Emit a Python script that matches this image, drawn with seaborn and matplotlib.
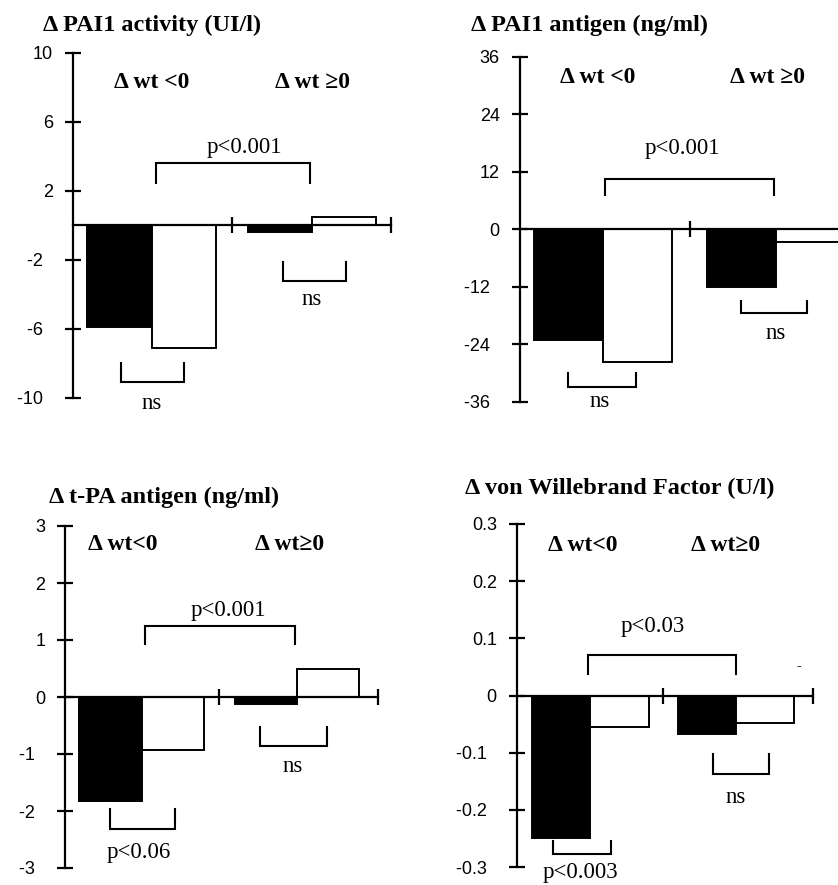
import pandas as pd
import matplotlib
matplotlib.use('Agg')
import matplotlib.pyplot as plt
import seaborn as sns

# groupes de poids et les deux barres (noire / blanche) par groupe
groups = ['Δ wt <0', 'Δ wt ≥0']
bars = ['black', 'white']

# valeurs
pai1_activity = [-5.9, -7.1, -0.4, 0.5]
pai1_antigen = [-23.0, -27.7, -11.9, -2.7]
tpa_antigen = [-1.83, -0.93, -0.12, 0.5]
vwf = [-0.25, -0.055, -0.068, -0.048]

titles = ['Δ PAI1 activity (UI/l)', 'Δ PAI1 antigen (ng/ml)',
          'Δ t-PA antigen (ng/ml)', 'Δ von Willebrand Factor (U/l)']
group_labels = [['Δ wt <0', 'Δ wt ≥0'], ['Δ wt <0', 'Δ wt ≥0'],
                ['Δ wt<0', 'Δ wt≥0'], ['Δ wt<0', 'Δ wt≥0']]

yticks = [[10, 6, 2, -2, -6, -10],
          [36, 24, 12, 0, -12, -24, -36],
          [3, 2, 1, 0, -1, -2, -3],
          [0.3, 0.2, 0.1, 0, -0.1, -0.2, -0.3]]
ylims = [(-10, 10), (-36, 36), (-3, 3), (-0.3, 0.3)]

# crochets de comparaison: x0, x1, y horizontal, y des pattes, texte, x texte, y texte
brackets = [
    [(0.03, 0.99, 3.62, 2.46, 'p<0.001', 0.58, 4.5),
     (-0.19, 0.20, -9.07, -7.97, 'ns', 0.0, -10.3),
     (0.82, 1.21, -3.22, -2.12, 'ns', 1.0, -4.3)],
    [(0.01, 0.99, 10.6, 7.1, 'p<0.001', 0.46, 16.9),
     (-0.2, 0.19, -32.8, -29.9, 'ns', -0.02, -35.8),
     (0.8, 1.18, -17.5, -15.0, 'ns', 1.0, -21.8)],
    [(0.02, 0.99, 1.25, 0.93, 'p<0.001', 0.56, 1.51),
     (-0.2, 0.215, -2.32, -1.96, 'p<0.06', -0.02, -2.72),
     (0.76, 1.19, -0.86, -0.53, 'ns', 0.97, -1.22)],
    [(-0.02, 1.0, 0.070, 0.038, 'p<0.03', 0.43, 0.121),
     (-0.26, 0.14, -0.278, -0.255, 'p<0.003', -0.07, -0.309),
     (0.84, 1.23, -0.138, -0.103, 'ns', 1.0, -0.178)],
]
label_y = [8.3, 31.7, 2.68, 0.262]
label_x = [[0.0, 1.0], [-0.03, 0.95], [-0.12, 0.95], [-0.05, 0.93]]

xlims = [(-0.49, 1.49), (-0.48, 1.5), (-0.49, 1.52), (-0.505, 1.53)]
# positions des axes en pixels (gauche, haut, droite, bas)
boxes = [(73, 53, 390.6, 398), (520, 57, 862.5, 402),
         (65.3, 526, 377.9, 868), (517, 524, 813.1, 867)]
title_pos = [(43, 25), (471, 25), (49, 497), (465, 488)]

W, H = 838, 885
plt.rcParams['font.family'] = ['Liberation Serif', 'DejaVu Serif']

fig = plt.figure(figsize=(W / 100, H / 100), dpi=100)


def tick_text(v):
    # les valeurs négatives sont décalées vers la gauche sur l'original
    s = str(v)
    return s + '  ' if v < 0 else s


all_vals = [pai1_activity, pai1_antigen, tpa_antigen, vwf]
for i, vals in enumerate(all_vals):
    l, t, r, b = boxes[i]
    ax = fig.add_axes([l / W, 1 - b / H, (r - l) / W, (b - t) / H])
    df = pd.DataFrame({
        'group': [groups[0], groups[0], groups[1], groups[1]],
        'bar': bars * 2,
        'value': vals,
    })
    sns.barplot(data=df, x='group', y='value', hue='bar', hue_order=bars,
                palette=['black', 'white'], edgecolor='black', linewidth=1.4,
                width=0.8, saturation=1, errorbar=None, legend=False, ax=ax)

    ax.set_xlim(*xlims[i])
    ax.set_ylim(*ylims[i])
    ax.set_xlabel('')
    ax.set_ylabel('')
    for s in ['top', 'right']:
        ax.spines[s].set_visible(False)
    ax.spines['bottom'].set_position(('data', 0))
    ax.spines['left'].set_linewidth(1.6)
    ax.spines['bottom'].set_linewidth(1.6)

    xt = [0.5] if i == 1 else [0.5, xlims[i][1]]
    ax.set_xticks(xt)
    ax.set_xticklabels([''] * len(xt))
    ax.set_yticks(yticks[i])
    ax.set_yticklabels([tick_text(v) for v in yticks[i]],
                       family='Liberation Sans', fontsize=13)
    ax.tick_params(axis='both', direction='inout', length=11, width=1.6, pad=9)
    ax.patch.set_visible(False)

    for (x0, x1, yh, yl, txt, tx, ty) in brackets[i]:
        ax.plot([x0, x0, x1, x1], [yl, yh, yh, yl], color='black', lw=1.5,
                clip_on=False, solid_joinstyle='miter')
        ax.text(tx, ty, txt, ha='center', va='center', fontsize=16.5, clip_on=False)

    for k in range(2):
        ax.text(label_x[i][k], label_y[i], group_labels[i][k], ha='center',
                va='center', fontsize=17, fontweight='bold')

    tx, ty = title_pos[i]
    fig.text(tx / W, 1 - ty / H, titles[i], ha='left', va='center',
             fontsize=17.5, fontweight='bold')

    if i == 3:
        ax.text(1.43, 0.05, '-', ha='center', va='center', fontsize=10,
                fontweight='bold')

fig.savefig('out.png', dpi=100)
